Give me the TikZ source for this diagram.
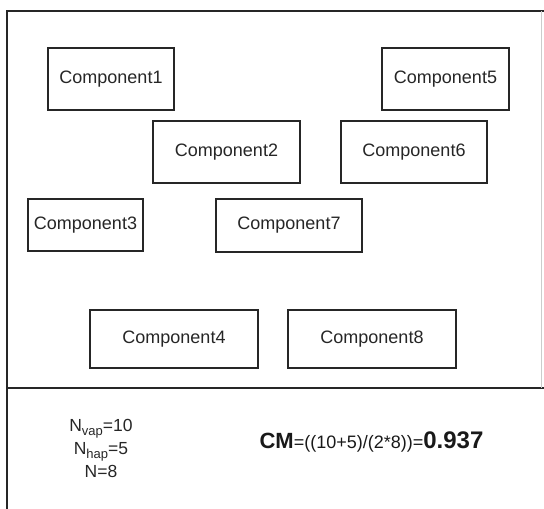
\documentclass[tikz,border=0pt]{standalone}
\usepackage{fontspec}
\setmainfont{Liberation Sans}
\newcommand{\subtxt}[1]{\raisebox{-0.28em}{\fontsize{13}{13}\selectfont #1}}
\begin{document}
\begin{tikzpicture}[x=1pt,y=-1pt,
  comp/.style={draw=black!85,line width=2pt,inner sep=0pt,
    font=\fontsize{18}{21}\selectfont,text=black!85},
  frame/.style={draw=black!85,line width=2.6pt}]
\useasboundingbox (0,0) rectangle (544,509);
% component boxes
\node[comp,minimum width=126,minimum height=62] (c1) at (111,79) {Component1};
\node[comp,minimum width=147,minimum height=62] (c2) at (226.5,152) {Component2};
\node[comp,minimum width=115,minimum height=52] (c3) at (85.5,225) {Component3};
\node[comp,minimum width=168,minimum height=58] (c4) at (174,339) {Component4};
\node[comp,minimum width=127,minimum height=62] (c5) at (445.5,79) {Component5};
\node[comp,minimum width=146,minimum height=62] (c6) at (414,152) {Component6};
\node[comp,minimum width=146,minimum height=53] (c7) at (289,225.5) {Component7};
\node[comp,minimum width=168,minimum height=58] (c8) at (372,339) {Component8};
% outer frame and separator
\coordinate (tl) at (7,11);
\coordinate (tr) at (544,11);
\coordinate (bl) at (7,509);
\coordinate (sl) at (7,388);
\coordinate (sr) at (544,388);
\draw[frame] (tr) -- (tl) -- (bl);
\draw[frame] (sl) -- (sr);
\draw[black!20,line width=1pt] (541,11) -- (541,388);
% metric values
\node[align=center,inner sep=0pt,text=black!85,font=\fontsize{17.5}{23}\selectfont] (vals) at (101,448)
  {N\subtxt{vap}=10\\N\subtxt{hap}=5\\N=8};
\node[inner sep=0pt,text=black!90] (cm) at (371.5,442)
  {{\fontsize{22}{24}\selectfont\bfseries CM}{\fontsize{18}{24}\selectfont=((10+5)/(2*8))=}{\fontsize{24}{24}\selectfont\bfseries 0.937}};
\end{tikzpicture}
\end{document}
